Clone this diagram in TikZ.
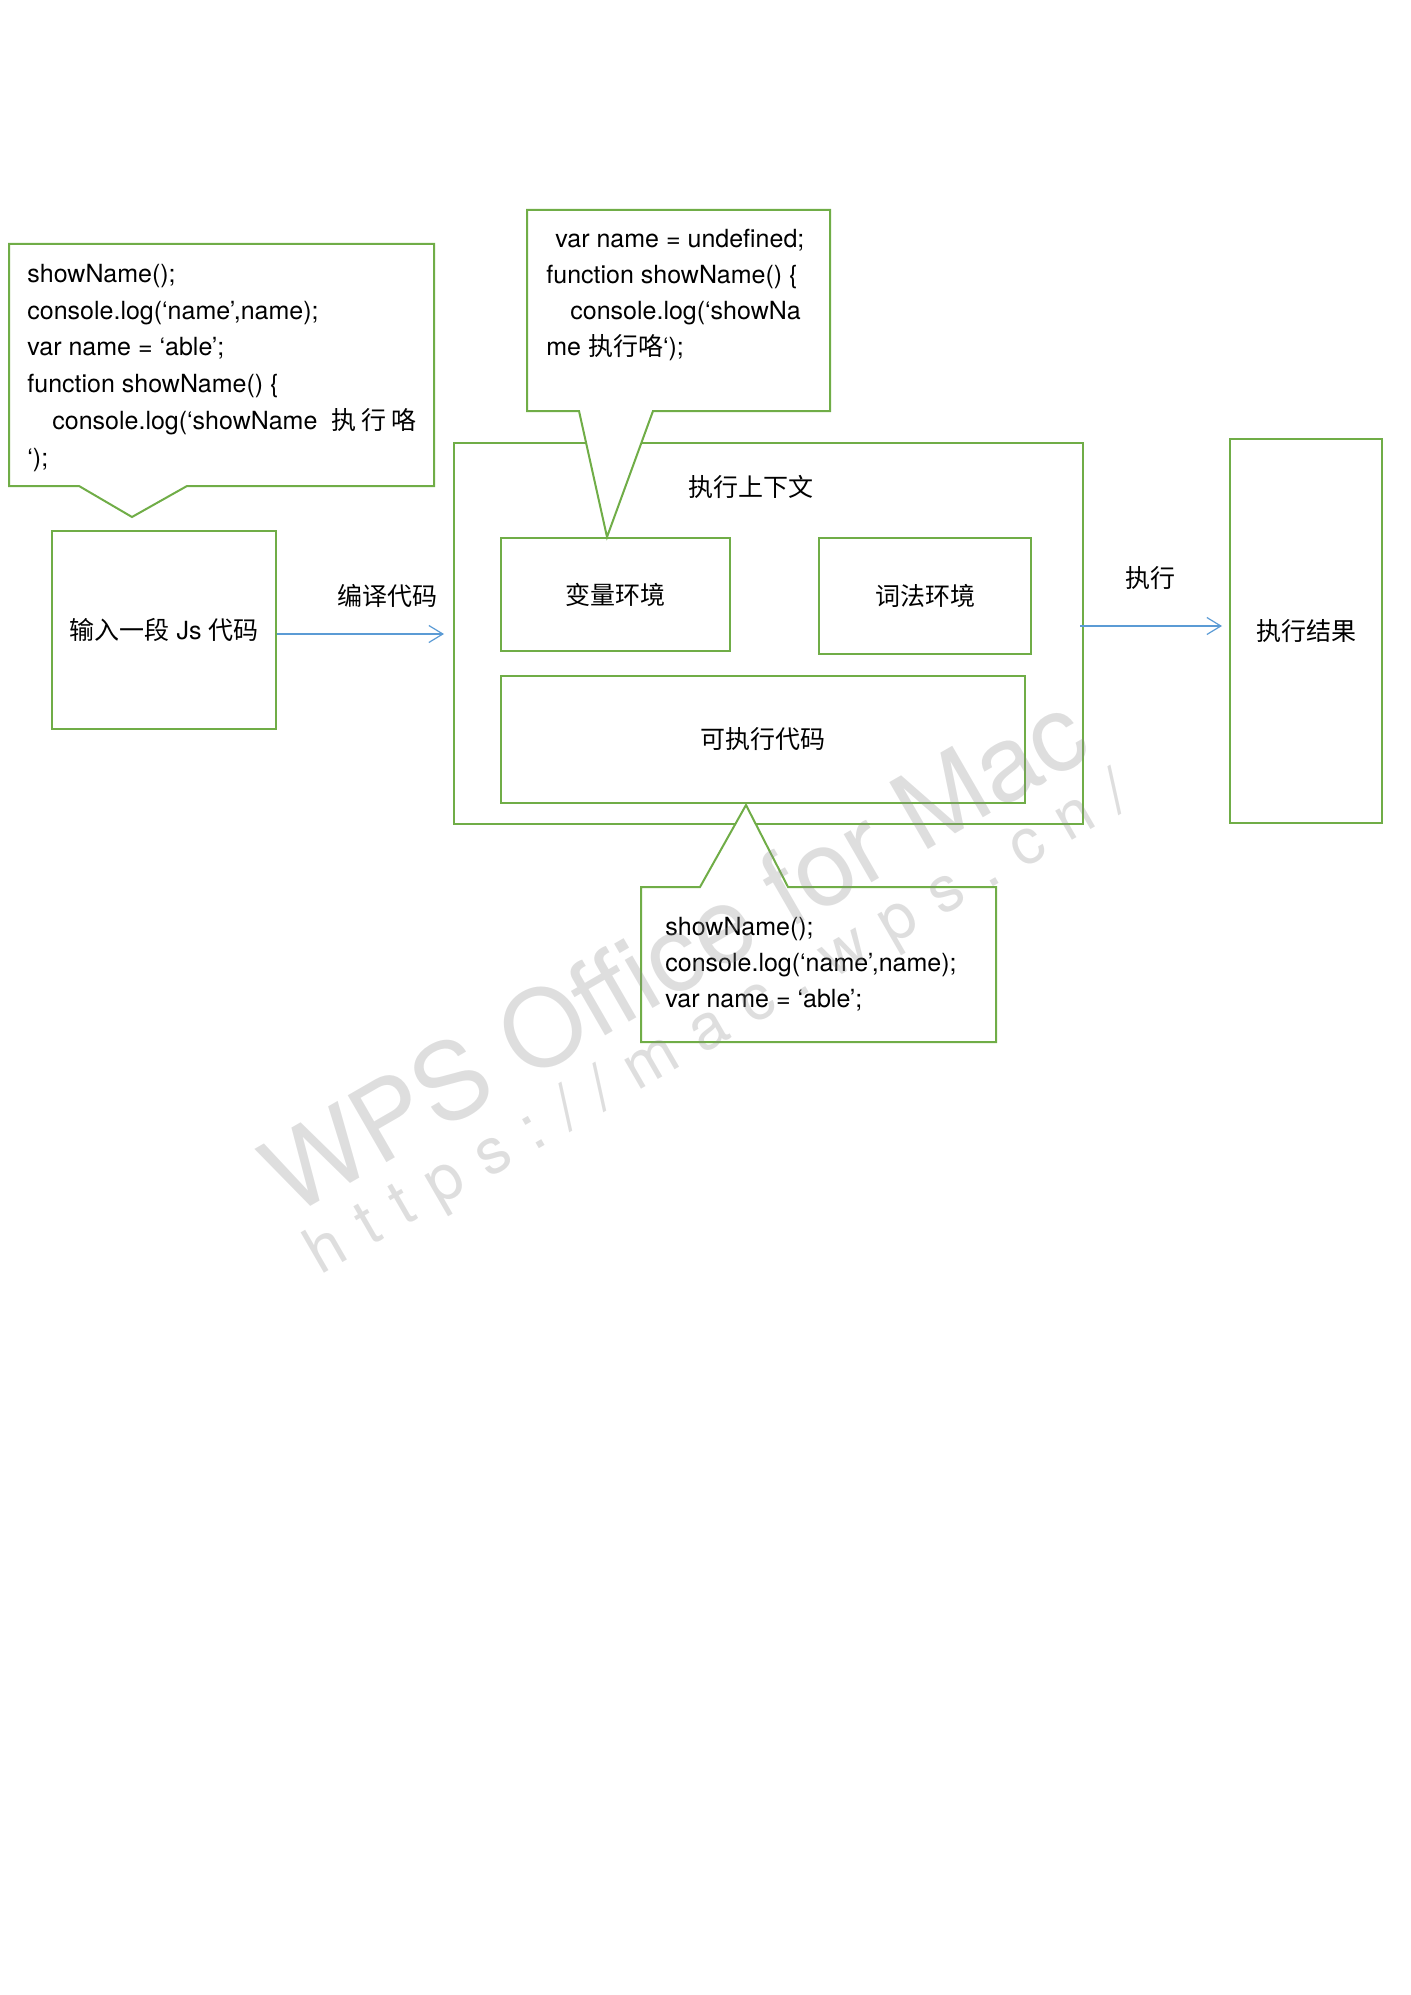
\documentclass[tikz,border=0pt]{standalone}
\usepackage{fontspec}
\setmainfont{TeX Gyre Heros}
\newfontfamily\cjk{Noto Sans CJK SC}
\usetikzlibrary{arrows.meta}
\definecolor{grn}{HTML}{70AD47}
\definecolor{blu}{HTML}{5B9BD5}
\definecolor{wmgray}{HTML}{8A8A8A}
\newcommand\fsz{\fontsize{12.5pt}{14pt}\selectfont}
\begin{document}
\begin{tikzpicture}[x=0.5pt,y=-0.5pt,
  every node/.style={font=\fsz, text=black},
  box/.style={draw=grn, line width=1pt, inner sep=0pt},
  call/.style={draw=grn, line width=1pt, fill=white, line join=miter},
  codeln/.style={inner sep=0pt, anchor=base west},
  lbl/.style={inner sep=0pt, anchor=center},
  arr/.style={draw=blu, line width=0.6pt, -{Straight Barb[length=7pt,width=8.5pt]}},
  wmtext/.style={text=wmgray, opacity=0.28, inner sep=0pt, anchor=center, rotate=30}]
\useasboundingbox (0,0) rectangle (1411,1995);

% boxes
\node[box, minimum width=112pt, minimum height=99pt] (in) at (164,630) {{\cjk 输入一段} Js {\cjk 代码}};
\node[box, minimum width=314.5pt, minimum height=190.5pt] (ctx) at (768.5,633.5) {};
\node[lbl] (ctxlbl) at (751,487) {\cjk 执行上下文};
\node[box, minimum width=114.5pt, minimum height=56.5pt] (var) at (615.5,594.5) {\cjk 变量环境};
\node[box, minimum width=106pt, minimum height=58pt] (lex) at (925,596) {\cjk 词法环境};
\node[box, minimum width=262pt, minimum height=63.5pt] (code) at (763,739.5) {\cjk 可执行代码};
\node[box, minimum width=76pt, minimum height=192pt] (res) at (1306,631) {\cjk 执行结果};

% connectors
\draw[arr] ([yshift=-2pt]in.east) -- ([yshift=-0.25pt,xshift=-4.5pt]ctx.west);
\node[lbl] (lbl1) at (387,596) {\cjk 编译代码};
\draw[arr] ([yshift=3.75pt,xshift=-2pt]ctx.east) -- ([yshift=2.5pt,xshift=-3.5pt]res.west);
\node[lbl] (lbl2) at (1150,578) {\cjk 执行};

% callout A (left)
\draw[call] (9,244) -- (434,244) -- (434,486) -- (187,486) -- (132,517) -- (79,486) -- (9,486) -- cycle;
\node[codeln] (a1) at (27,283) {showName();};
\node[codeln] (a2) at (27,320) {console.log(‘name’,name);};
\node[codeln] (a3) at (27,356) {var name = ‘able’;};
\node[codeln] (a4) at (27,393) {function showName() \{};
\node[codeln] (a5) at (52,429) {console.log(‘showName\hspace{7pt}{\cjk 执\hspace{2.5pt}行\hspace{2.5pt}咯}};
\node[codeln] (a6) at (27,466) {‘);};

% callout B (top)
\draw[call] (527,210) -- (830,210) -- (830,411) -- (653,411) -- (607,537) -- (579,411) -- (527,411) -- cycle;
\node[codeln] (b1) at (555,248) {var name = undefined;};
\node[codeln] (b2) at (546,284) {function showName() \{};
\node[codeln] (b3) at (570,320) {console.log(‘showNa};
\node[codeln] (b4) at (546,356) {me {\cjk 执行咯}‘);};

% callout C (bottom)
\draw[call] (641,887) -- (700,887) -- (746,805) -- (788,887) -- (996,887) -- (996,1042) -- (641,1042) -- cycle;
\node[codeln] (c1) at (665,935) {showName();};
\node[codeln] (c2) at (665,971) {console.log(‘name’,name);};
\node[codeln] (c3) at (665,1007) {var name = ‘able’;};

% watermark
\node[wmtext, font=\fontsize{53pt}{58pt}\selectfont] (wm1) at (674,952) {WPS Office for Mac};
\node[wmtext, font=\fontsize{32pt}{36pt}\selectfont\addfontfeature{LetterSpace=34}] (wm2) at (719,1026) {https://mac.wps.cn/};
\end{tikzpicture}
\end{document}
